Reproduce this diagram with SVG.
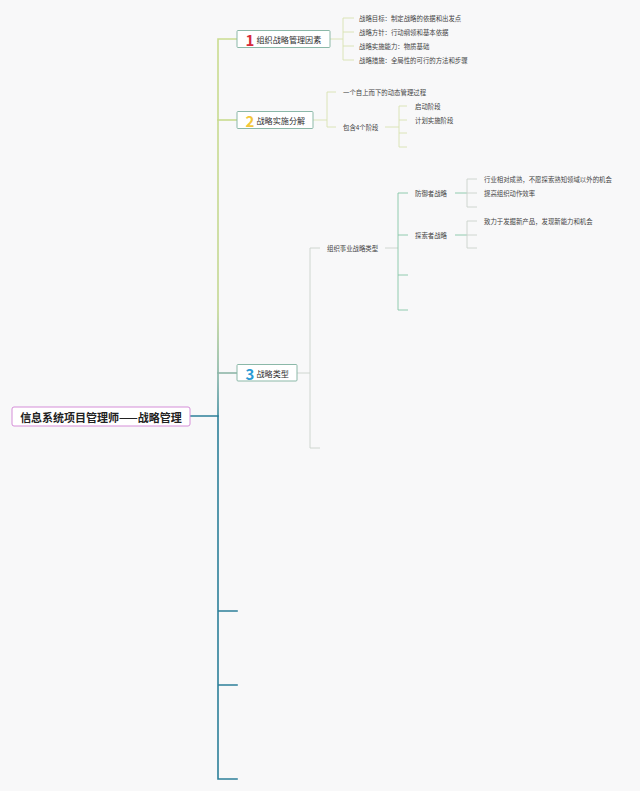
<svg xmlns="http://www.w3.org/2000/svg" width="640" height="791" viewBox="0 0 640 791">
<defs>
<linearGradient id="trunkTop" gradientUnits="userSpaceOnUse" x1="0" y1="39" x2="0" y2="416">
<stop offset="0" stop-color="#cadc90"/>
<stop offset="0.72" stop-color="#c3d792"/>
<stop offset="0.9" stop-color="#80b1a6"/>
<stop offset="1" stop-color="#3a8a9c"/>
</linearGradient>
<style>
.bg{fill:#f8f8f9}
.trunk{fill:none;stroke-width:1.6;stroke-linecap:square}
.yg{fill:none;stroke:#d8e2b0;stroke-width:0.9}
.gr{fill:none;stroke:#cbd2cb;stroke-width:0.9}
.tg{fill:none;stroke:#86c6a6;stroke-width:0.9}
.root{fill:#ffffff;stroke:#d58ed8;stroke-width:1}
.box{fill:#ffffff;stroke:#8bb8a8;stroke-width:1}
text{font-family:"Noto Sans CJK SC","Noto Sans",sans-serif;dominant-baseline:central}
.rt{font-size:11px;font-weight:bold;fill:#222}
.bt{font-size:8.1px;fill:#2e2e2e}
.num{font-size:15px;font-weight:bold}
.lf{font-size:6.4px;fill:#444}
</style>
</defs>
<rect class="bg" x="0" y="0" width="640" height="791"/>
<g id="connectors">
<path class="trunk" stroke="url(#trunkTop)" d="M237,39 H218 V416"/>
<path class="trunk" stroke="#c9db8f" d="M218,120 H237"/>
<path class="trunk" stroke="#8db5a7" d="M218,373 H237"/>
<path class="trunk" stroke="#2c7f99" d="M190,416 H218 V779 H237 M218,611 H237 M218,685 H237"/>
<path class="yg" d="M330,39 H343 M354,18 H343 V60 H354 M343,32 H354 M343,46 H354"/>
<path class="yg" d="M313,120 H327 M336,92 H327 V127 H336"/>
<path class="yg" d="M385,127 H399 M407,106 H399 V147 H407 M399,120 H407 M399,133 H407"/>
<path class="gr" d="M297,373 H310 M320,248 H310 V448 H320"/>
<path class="gr" d="M385,248 H398"/>
<path class="tg" d="M408,193 H398 V310 H408 M398,235 H408 M398,275 H408"/>
<path class="tg" d="M455,193 H467 M455,235 H467"/>
<path class="gr" d="M477,179 H467 V207 H477 M467,193 H477"/>
<path class="gr" d="M477,221 H467 V248 H477 M467,235 H477"/>
</g>
<g id="root">
<rect class="root" x="12" y="407" width="178" height="19" rx="2"/>
<text class="rt" x="101" y="416.5" text-anchor="middle">信息系统项目管理师——战略管理</text>
</g>
<g id="b1">
<rect class="box" x="237" y="30.5" width="93" height="17" rx="1"/>
<text class="num" x="250" y="39.5" text-anchor="middle" fill="#d62a3c">1</text>
<text class="bt" x="256.5" y="39">组织战略管理因素</text>
</g>
<g id="b1-leaves">
<text class="lf" x="359" y="18">战略目标：制定战略的依据和出发点</text>
<text class="lf" x="359" y="32">战略方针：行动纲领和基本依据</text>
<text class="lf" x="359" y="46">战略实施能力：物质基础</text>
<text class="lf" x="359" y="60">战略措施：全局性的可行的方法和步骤</text>
</g>
<g id="b2">
<rect class="box" x="237" y="111.5" width="76" height="17" rx="1"/>
<text class="num" x="250" y="120.5" text-anchor="middle" fill="#f3c73a">2</text>
<text class="bt" x="256.5" y="120">战略实施分解</text>
</g>
<g id="b2-leaves">
<text class="lf" x="343" y="92">一个自上而下的动态管理过程</text>
<text class="lf" x="343" y="127">包含4个阶段</text>
<text class="lf" x="415" y="106">启动阶段</text>
<text class="lf" x="415" y="120">计划实施阶段</text>
</g>
<g id="b3">
<rect class="box" x="237" y="364.5" width="60" height="16.5" rx="1"/>
<text class="num" x="250" y="373.5" text-anchor="middle" fill="#2a9bd5">3</text>
<text class="bt" x="256.5" y="373">战略类型</text>
</g>
<g id="b3-leaves">
<text class="lf" x="327" y="248">组织事业战略类型</text>
<text class="lf" x="415" y="193">防御者战略</text>
<text class="lf" x="415" y="235">探索者战略</text>
<text class="lf" x="484" y="179">行业相对成熟，不愿探索熟知领域以外的机会</text>
<text class="lf" x="484" y="193">提高组织动作效率</text>
<text class="lf" x="484" y="221">致力于发掘新产品，发现新能力和机会</text>
</g>
</svg>
